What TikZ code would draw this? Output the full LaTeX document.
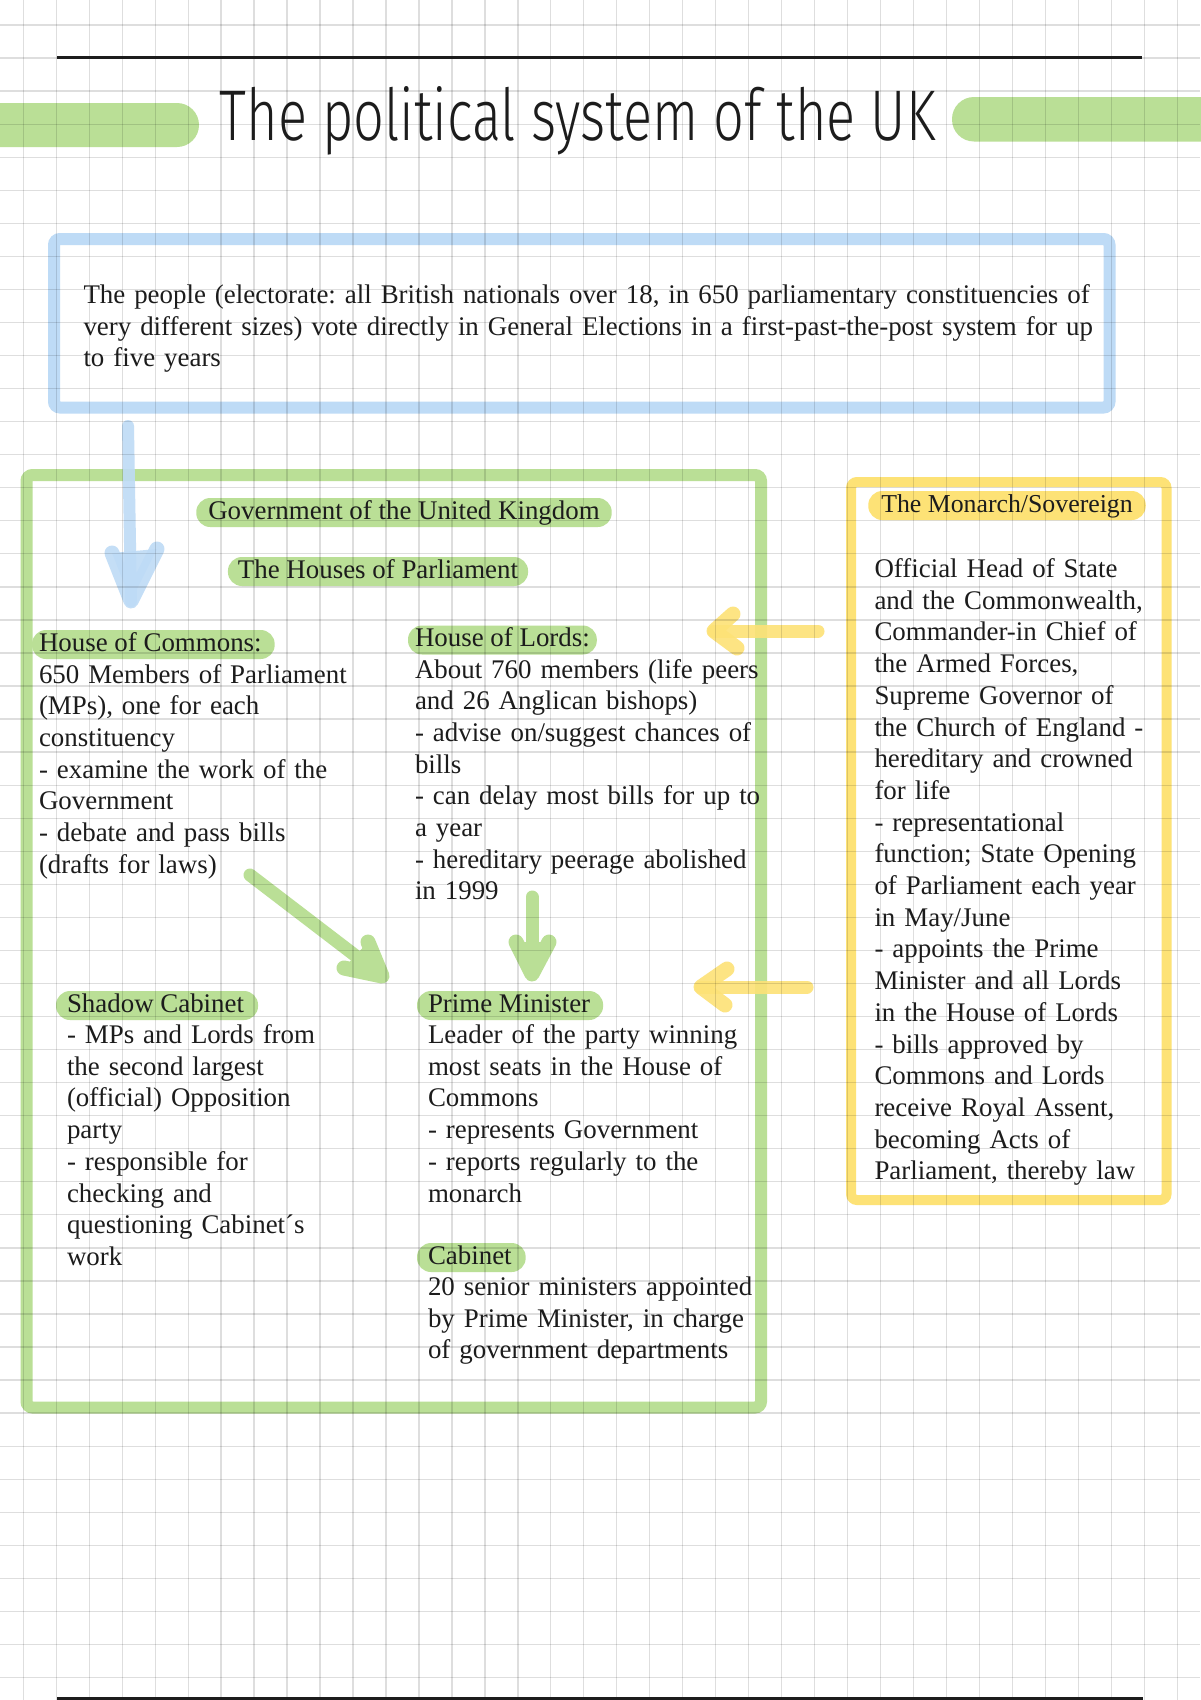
\documentclass[tikz,border=0pt]{standalone}
\usepackage{fontspec}
\usepackage{graphicx}
\setmainfont{Liberation Serif}
\newfontfamily\titlefont{Fira Sans Light}
\newcommand{\mybodyfont}{\fontsize{26.9}{31.7}\selectfont\frenchspacing}
\newcommand{\myheadfont}{\fontsize{25.8}{31.7}\selectfont\frenchspacing}
\definecolor{pgreen}{RGB}{186,223,150}
\definecolor{pblue}{RGB}{190,219,246}
\definecolor{pyellow}{RGB}{253,226,118}
\definecolor{ink}{RGB}{28,28,28}
\tikzset{
  gridline/.style={black, opacity=0.13, line width=1.3pt},
  framebox/.style={line width=12pt, rounded corners=6pt, inner sep=0pt},
  pill/.style={fill=pgreen, rounded corners=14pt, inner xsep=9pt, inner ysep=0pt,
    text height=21pt, text depth=8pt, font=\mybodyfont, text=ink},
  bodytext/.style={inner sep=0pt, text width=#1, align=left, font=\mybodyfont, text=ink},
  bodytext/.default=400pt,
  hand/.style={line width=13pt, line cap=round, line join=round},
}
\begin{document}
\begin{tikzpicture}[x=1pt,y=-1pt]
\useasboundingbox (0,0) rectangle (1200,1700);
\fill[white] (0,0) rectangle (1200,1700);

% title bars
\fill[pgreen, rounded corners=22pt] (-60,103) rectangle (199,147);
\fill[pgreen, rounded corners=22pt] (952,97) rectangle (1260,141.5);

% frames
\node[framebox, draw=pblue, minimum width=1055.5pt, minimum height=168.5pt] (peoplebox) at (581.75,323.25) {};
\node[framebox, draw=pgreen, minimum width=734.5pt, minimum height=932.5pt] (govbox) at (393.75,941.25) {};
\node[framebox, draw=pyellow, line width=10pt, minimum width=315.5pt, minimum height=718pt] (monarchbox) at (1008.75,841) {};

% header pills
\node[pill, anchor=base, inner xsep=12pt] (govhead) at (404,519) {Government of the United Kingdom};
\node[pill, anchor=base, inner xsep=10pt] (houseshead) at (378,578) {The Houses of Parliament};
\node[pill, anchor=text, inner xsep=7pt] (commonshead) at (39,651) {House of Commons:\kern6pt};
\node[pill, anchor=text, inner xsep=7pt] (lordshead) at (415,646.5) {House of Lords:};
\node[pill, anchor=text, inner xsep=11pt] (shadowhead) at (67,1012) {Shadow Cabinet\kern3pt};
\node[pill, anchor=text, inner xsep=11pt] (pmhead) at (428,1012) {Prime Minister\kern2pt};
\node[pill, anchor=text, inner xsep=11pt] (cabhead) at (428,1264) {Cabinet\kern3pt};
\node[pill, fill=pyellow, font=\myheadfont, anchor=base, inner xsep=13pt] (monarchhead) at (1007,512) {The Monarch/Sovereign};

% arrow coordinates
\coordinate (b0) at (128,426); \coordinate (b1) at (131,601);
\coordinate (b2) at (112,553); \coordinate (b3) at (157,549);
\coordinate (d0) at (250,875); \coordinate (d1) at (382,976);
\coordinate (d2) at (368,942); \coordinate (d3) at (344,968);
\coordinate (v0) at (532,897); \coordinate (v1) at (532,974);
\coordinate (v2) at (516,942); \coordinate (v3) at (549,942);
\coordinate (y0) at (818,631); \coordinate (y1) at (714,631);
\coordinate (y2) at (733,614); \coordinate (y3) at (737,648);
\coordinate (z0) at (807,987); \coordinate (z1) at (701,987);
\coordinate (z2) at (727,969); \coordinate (z3) at (725,1005);

% arrows
\draw[hand, pblue, opacity=0.9, line width=12pt] (b0) -- (b1);
\fill[pblue, opacity=0.9] (b2) -- (b1) -- (b3) -- cycle;
\draw[hand, pblue, opacity=0.9, line width=15pt] (b2) -- (b1) -- (b3);
\draw[hand, pgreen] (d0) -- (d1);
\fill[pgreen] (d2) -- (d1) -- (d3) -- cycle;
\draw[hand, pgreen, line width=15pt] (d2) -- (d1) -- (d3);
\draw[hand, pgreen] (v0) -- (v1);
\fill[pgreen] (v2) -- (v1) -- (v3) -- cycle;
\draw[hand, pgreen, line width=15pt] (v2) -- (v1) -- (v3);
\draw[hand, pyellow, opacity=0.9] (y0) -- (y1);
\draw[hand, pyellow, opacity=0.9, line width=15pt] (y2) -- (y1) -- (y3);
\draw[hand, pyellow, opacity=0.9] (z0) -- (z1);
\draw[hand, pyellow, opacity=0.9, line width=15pt] (z2) -- (z1) -- (z3);

% grid
\foreach \k in {0,...,35} \draw[gridline] ({23.3+32.97*\k},0) -- ++(0,1700);
\foreach \m in {0,...,50} \draw[gridline] (0,{25+33.05*\m}) -- ++(1200,0);

% rules
\draw[ink, line width=2.6pt] (57,57.3) -- (1142,57.3);
\draw[ink, line width=3pt] (57,1698.8) -- (1143,1698.8);

% title
\node[anchor=base west, inner sep=0pt, text=ink] (title) at (219.5,140)
  {\resizebox{716pt}{54pt}{\titlefont The political system of the UK}};

% texts
\node[bodytext=1060pt, anchor=text] (peopletext) at (83.5,303.5)
  {The people (electorate: all British nationals over 18, in 650 parliamentary constituencies of\\
   very different sizes) vote directly in General Elections in a first-past-the-post system for up\\
   to five years};

\node[bodytext, anchor=text] (commonstext) at (39,683)
  {650 Members of Parliament\\(MPs), one for each\\constituency\\- examine the work of the\\Government\\- debate and pass bills\\(drafts for laws)};

\node[bodytext, anchor=text] (lordstext) at (415,678)
  {About 760 members (life peers\\and 26 Anglican bishops)\\- advise on/suggest chances of\\bills\\- can delay most bills for up to\\a year\\- hereditary peerage abolished\\in 1999};

\node[bodytext, anchor=text] (shadowtext) at (67,1043.5)
  {- MPs and Lords from\\the second largest\\(official) Opposition\\party\\- responsible for\\checking and\\questioning Cabinet´s\\work};

\node[bodytext, anchor=text] (pmtext) at (428,1043.5)
  {Leader of the party winning\\most seats in the House of\\Commons\\- represents Government\\- reports regularly to the\\monarch};

\node[bodytext, anchor=text] (cabtext) at (428,1295.5)
  {20 senior ministers appointed\\by Prime Minister, in charge\\of government departments};

\node[bodytext=300pt, anchor=text] (monarchtext) at (874.5,577.5)
  {Official Head of State\\and the Commonwealth,\\Commander-in Chief of\\the Armed Forces,\\Supreme Governor of\\the Church of England -\\hereditary and crowned\\for life\\- representational\\function; State Opening\\of Parliament each year\\in May/June\\- appoints the Prime\\Minister and all Lords\\in the House of Lords\\- bills approved by\\Commons and Lords\\receive Royal Assent,\\becoming Acts of\\Parliament, thereby law};
\end{tikzpicture}
\end{document}
